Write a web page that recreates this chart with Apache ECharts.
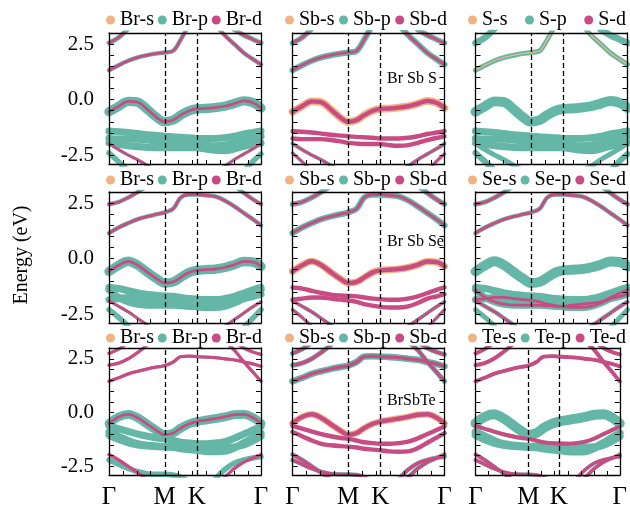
<!DOCTYPE html>
<html>
<head>
<meta charset="utf-8">
<script src="https://cdn.jsdelivr.net/npm/echarts@6/dist/echarts.min.js"></script>
<style>
html, body { margin: 0; padding: 0; background: #fff; }
#main { width: 630px; height: 510px; }
</style>
</head>
<body>
<div id="main"></div>
<script>
// k path  G - M - K - G
var kPath = [0, 0.15, 0.3, 0.45, 0.6, 0.75, 0.866, 1.0, 1.116, 1.25, 1.366, 1.5, 1.65, 1.8, 1.95, 2.1, 2.25, 2.366];
var kHigh = [0, 0.866, 1.366, 2.366];
var kNames = ['Γ', 'M', 'K', 'Γ'];
var kMinor = [0.2165, 0.433, 0.6495, 1.0825, 1.299, 1.5155, 1.732, 1.9485, 2.165];
var eTicks = [-2.5, -2, -1.5, -1, -0.5, 0, 0.5, 1, 1.5, 2, 2.5];
var eLabels = [-2.5, 0, 2.5];

var compounds = ['Br Sb S', 'Br Sb Se', 'BrSbTe'];
var atoms = [['Br', 'Sb', 'S'], ['Br', 'Sb', 'Se'], ['Br', 'Sb', 'Te']];
var orbitals = ['p', 's', 'd'];

// BrSbS bands (eV)
var sCb2 = [2.55, 2.8, 3.2, null, null, null, null, null, null, null, null, null, null, null, 3.15, 2.9, 2.7, 2.55];
var sCb1 = [1.32, 1.55, 1.75, 1.9, 2.0, 2.08, 2.12, 2.2, 2.7, 3.4, null, null, 3.4, 2.9, 2.5, 2.1, 1.8, 1.58];
var sVb1 = [-0.55, -0.3, -0.08, -0.12, -0.45, -0.82, -1.0, -0.92, -0.7, -0.5, -0.42, -0.4, -0.36, -0.3, -0.18, -0.06, -0.15, -0.38];
var sA = [-1.42, -1.45, -1.48, -1.53, -1.58, -1.62, -1.65, -1.68, -1.7, -1.72, -1.75, -1.75, -1.75, -1.72, -1.65, -1.55, -1.48, -1.42];
var sB = [-1.75, -1.78, -1.78, -1.78, -1.82, -1.88, -1.95, -1.98, -2.0, -2.0, -2.0, -2.05, -2.08, -2.05, -1.95, -1.82, -1.72, -1.65];
var sC = [-1.95, -2.02, -2.08, -2.12, -2.15, -2.17, -2.17, -2.17, -2.17, -2.17, -2.17, -2.22, -2.28, -2.3, -2.22, -2.1, -2.0, -1.95];
var sD = [-1.98, -2.25, -2.5, -2.72, -2.97, -3.2, null, null, null, null, null, null, -3.2, -3.0, -2.7, -2.45, -2.2, -1.98];
var sE = [-2.4, -2.8, -3.2, null, null, null, null, null, null, null, null, null, null, null, null, -3.2, -2.75, -2.45];

// BrSbSe bands (eV)
var seCb2 = [2.45, 2.55, 2.75, 3.0, 3.3, null, null, null, null, null, null, null, null, null, 3.3, 2.95, 2.65, 2.45];
var seCb1 = [1.15, 1.4, 1.6, 1.78, 1.9, 2.0, 2.08, 2.25, 2.75, 2.88, 2.88, 2.85, 2.8, 2.62, 2.35, 2.05, 1.75, 1.5];
var seVb1 = [-0.58, -0.3, -0.12, -0.3, -0.62, -0.92, -1.1, -1.05, -0.85, -0.62, -0.53, -0.5, -0.47, -0.4, -0.28, -0.13, -0.16, -0.35];
var seA = [-1.3, -1.35, -1.45, -1.55, -1.62, -1.66, -1.68, -1.7, -1.75, -1.8, -1.83, -1.85, -1.85, -1.8, -1.7, -1.55, -1.4, -1.3];
var seB = [-1.85, -1.8, -1.75, -1.75, -1.8, -1.85, -1.88, -1.95, -2.05, -2.12, -2.17, -2.2, -2.2, -2.15, -2.0, -1.8, -1.7, -1.6];
var seC = [-1.4, -1.75, -1.95, -2.05, -2.1, -2.1, -2.1, -2.1, -2.12, -2.15, -2.15, -2.1, -2.05, -2.0, -1.95, -1.75, -1.55, -1.4];
var seD = [-1.9, -2.15, -2.4, -2.7, -3.0, -3.3, null, null, null, null, null, null, -3.3, -3.05, -2.75, -2.45, -2.15, -1.95];
var seE = [-2.3, -2.65, -3.05, null, null, null, null, null, null, null, null, null, null, null, null, -3.1, -2.65, -2.3];

// BrSbTe bands (eV)
var teCb3 = [2.75, 2.95, 3.25, null, null, null, null, null, null, null, null, null, null, null, 3.3, 3.0, 2.8, 2.7];
var teCb2 = [2.2, 2.3, 2.5, 2.8, 3.15, null, null, null, null, null, null, null, null, 3.3, 2.9, 2.35, 1.85, 1.45];
var teCb1 = [1.45, 1.62, 1.8, 1.92, 2.03, 2.12, 2.18, 2.35, 2.6, 2.62, 2.6, 2.58, 2.55, 2.5, 2.45, 2.35, 2.25, 2.15];
var teVb1 = [-0.5, -0.2, -0.08, -0.25, -0.55, -0.85, -1.03, -0.95, -0.72, -0.52, -0.42, -0.35, -0.28, -0.2, -0.1, -0.08, -0.25, -0.5];
var teA = [-0.62, -0.75, -0.88, -1.0, -1.1, -1.18, -1.22, -1.3, -1.38, -1.42, -1.45, -1.45, -1.42, -1.35, -1.2, -1.0, -0.8, -0.65];
var teB = [-0.9, -1.1, -1.3, -1.45, -1.52, -1.56, -1.58, -1.62, -1.68, -1.72, -1.75, -1.8, -1.82, -1.8, -1.65, -1.4, -1.15, -0.95];
var teC = [-1.05, -1.25, -1.4, -1.5, -1.55, -1.58, -1.6, -1.55, -1.5, -1.5, -1.52, -1.55, -1.6, -1.62, -1.6, -1.5, -1.3, -1.1];
var teD = [-1.95, -2.2, -2.5, -2.8, -3.1, null, null, null, null, null, null, null, -3.3, -3.0, -2.6, -2.3, -2.1, -1.95];
var teE = [-2.2, -2.4, -2.6, -2.75, -2.85, -2.87, -2.87, -2.9, -3.0, -3.2, null, null, -3.1, -2.65, -2.35, -2.2, -2.1, -2.05];

// orbital weights per band [p, s, d]
var wBrS = [[0.45, 0, 0.25], [0.4, 0, 0.25], [0.85, 0, 0.25], [0.65, 0, 0], [0.65, 0, 0], [0.65, 0, 0], [0.3, 0, 0.25], [0.5, 0, 0]];
var wSbS = [[0.5, 0, 0.25], [0.55, 0, 0.25], [0.15, 0.7, 0.4], [0.1, 0, 0.4], [0.1, 0, 0.4], [0, 0, 0], [0.35, 0, 0.25], [0.3, 0, 0.25]];
var wSS = [[0.6, 0, 0], [0.45, 0.12, 0], [0.9, 0, 0], [0.65, 0, 0], [0.65, 0, 0], [0.65, 0, 0], [0.45, 0, 0], [0.55, 0, 0]];
var wBrSe = [[0.4, 0, 0.25], [0.4, 0, 0.25], [0.85, 0, 0.25], [0.65, 0, 0], [0.65, 0, 0], [0.65, 0, 0], [0.3, 0, 0.25], [0.5, 0, 0]];
var wSbSe = [[0.5, 0, 0.25], [0.55, 0, 0.25], [0.15, 0.65, 0.4], [0.1, 0, 0.4], [0.1, 0, 0.4], [0, 0, 0], [0.35, 0, 0.25], [0.3, 0, 0.25]];
var wSeSe = [[0.45, 0, 0.25], [0.4, 0, 0.25], [0.9, 0, 0], [0.65, 0, 0], [0.65, 0, 0.25], [0.65, 0, 0.25], [0.4, 0, 0.25], [0.45, 0, 0]];
var wBrTe = [[0.25, 0, 0.3], [0.25, 0, 0.3], [0.25, 0, 0.3], [0.8, 0, 0.25], [0.65, 0, 0], [0.65, 0, 0], [0.65, 0, 0], [0.25, 0, 0.3], [0.5, 0, 0]];
var wSbTe = [[0.45, 0, 0.3], [0.45, 0, 0.3], [0.6, 0, 0.3], [0.1, 0.6, 0.4], [0.1, 0, 0.4], [0.1, 0, 0.4], [0, 0, 0], [0.4, 0, 0.3], [0.4, 0, 0.3]];
var wTeTe = [[0.3, 0, 0.35], [0.3, 0, 0.35], [0.3, 0, 0.35], [0.9, 0, 0], [0.35, 0, 0.35], [0.7, 0, 0], [0.7, 0, 0], [0.35, 0, 0.3], [0.35, 0, 0.3]];

var rowBands = [
    [sCb2, sCb1, sVb1, sA, sB, sC, sD, sE],
    [seCb2, seCb1, seVb1, seA, seB, seC, seD, seE],
    [teCb3, teCb2, teCb1, teVb1, teA, teB, teC, teD, teE]
];
var weights = [[wBrS, wSbS, wSS], [wBrSe, wSbSe, wSeSe], [wBrTe, wSbTe, wTeTe]];

var colors = { s: '#f0b483', p: '#64b6a6', d: '#c94b83' };
var font = '"Liberation Serif", "Times New Roman", serif';
var cols = [109, 292.5, 475.5], rows = [33, 192, 348], gw = 152, gh = 131;
var legendY = [10, 170, 328];
var legendSpan = [[106, 262], [285, 447], [468, 626]];
var labelY = [80, 243, 402];

var ctx = document.createElement('canvas').getContext('2d');
ctx.font = '20px ' + font;

var dom = document.getElementById('main');
var myChart = echarts.init(dom);

var option = {
    animation: false,
    backgroundColor: '#fff',
    grid: [], xAxis: [], yAxis: [], series: [], legend: [],
    graphic: [{
        type: 'text', left: 12, top: 'middle', rotation: Math.PI / 2,
        style: { text: 'Energy (eV)', font: '20px ' + font, fill: '#000' }
    }]
};

function frameAxis(extra) {
    var base = {
        axisLine: { show: true, onZero: false, lineStyle: { color: '#000', width: 1.3 } },
        splitLine: { show: false },
        z: 10
    };
    for (var key in extra) base[key] = extra[key];
    return base;
}

for (var r = 0; r < 3; r++) {
    for (var c = 0; c < 3; c++) {
        var g = r * 3 + c;
        option.grid.push({ left: cols[c], top: rows[r], width: gw, height: gh });

        option.xAxis.push(frameAxis({
            type: 'value', gridIndex: g, min: 0, max: 2.366, position: 'bottom',
            axisTick: { show: true, inside: true, length: 4, customValues: kMinor, lineStyle: { color: '#000' } },
            axisLabel: {
                show: r === 2, customValues: kHigh, margin: 10,
                formatter: function (v) {
                    for (var i = 0; i < kHigh.length; i++) if (Math.abs(kHigh[i] - v) < 1e-6) return kNames[i];
                    return '';
                },
                fontFamily: font, fontSize: 25, color: '#000'
            }
        }));
        option.xAxis.push(frameAxis({
            type: 'value', gridIndex: g, min: 0, max: 2.366, position: 'top',
            axisTick: { show: false }, axisLabel: { show: false }
        }));
        option.yAxis.push(frameAxis({
            type: 'value', gridIndex: g, min: -2.9, max: 3.0, position: 'left',
            axisTick: { show: true, inside: true, length: 5, customValues: eTicks, lineStyle: { color: '#000' } },
            axisLabel: {
                show: c === 0, customValues: eLabels, margin: 15,
                formatter: function (v) { return v.toFixed(1); },
                fontFamily: font, fontSize: 21, color: '#000'
            }
        }));
        option.yAxis.push(frameAxis({
            type: 'value', gridIndex: g, min: -2.9, max: 3.0, position: 'right',
            axisTick: { show: true, inside: true, length: 5, customValues: eTicks, lineStyle: { color: '#000' } },
            axisLabel: { show: false }
        }));

        var atom = atoms[r][c];
        var bands = rowBands[r];
        var w = weights[r][c];

        // placeholder series for legend colours
        ['s', 'p', 'd'].forEach(function (o) {
            option.series.push({
                type: 'line', name: atom + '-' + o, xAxisIndex: 2 * g, yAxisIndex: 2 * g, data: [],
                itemStyle: { color: colors[o] }, lineStyle: { color: colors[o] }
            });
        });

        for (var b = 0; b < bands.length; b++) {
            for (var li = 0; li < orbitals.length; li++) {
                var wt = w[b][li];
                if (!wt) continue;
                var o = orbitals[li];
                var band = bands[b];
                option.series.push({
                    type: 'line', name: atom + '-' + o,
                    xAxisIndex: 2 * g, yAxisIndex: 2 * g,
                    data: kPath.map(function (k, i) { return [k, band[i] === null ? '-' : band[i]]; }),
                    smooth: 0.35, symbol: 'none', showSymbol: false, silent: true, clip: true,
                    lineStyle: { color: colors[o], width: wt * 11, cap: 'round' },
                    itemStyle: { color: colors[o] },
                    z: 2 + li
                });
            }
        }

        // high-symmetry dashed lines
        option.series.push({
            type: 'line', xAxisIndex: 2 * g, yAxisIndex: 2 * g, data: [], z: 8, silent: true,
            markLine: {
                silent: true, symbol: 'none', label: { show: false },
                lineStyle: { color: '#000', type: [5, 3], width: 1.3 },
                data: [{ xAxis: kHigh[1] }, { xAxis: kHigh[2] }]
            }
        });

        // legend above panel
        var names = ['s', 'p', 'd'].map(function (o) { return atom + '-' + o; });
        var total = 0;
        names.forEach(function (n) { total += 9 + 5 + ctx.measureText(n).width; });
        var span = legendSpan[c][1] - legendSpan[c][0];
        option.legend.push({
            left: legendSpan[c][0], top: legendY[r], padding: 0,
            itemGap: Math.max(2, (span - total) / 2),
            itemWidth: 9, itemHeight: 9, selectedMode: false,
            data: names.map(function (n) { return { name: n, icon: 'circle' }; }),
            textStyle: { fontFamily: font, fontSize: 20, color: '#000' }
        });

        if (c === 1) {
            option.graphic.push({
                type: 'text', left: 387, top: labelY[r] - 9,
                style: { text: compounds[r], font: '16px ' + font, fill: '#000' }
            });
        }
    }
}

myChart.setOption(option);
</script>
</body>
</html>
